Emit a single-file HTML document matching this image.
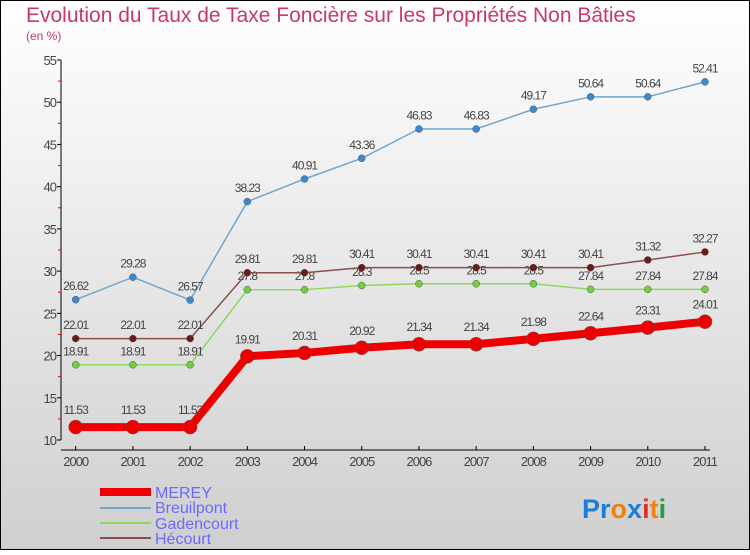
<!DOCTYPE html>
<html><head><meta charset="utf-8"><style>
body{margin:0}
#c{width:750px;height:550px;position:relative;font-family:"Liberation Sans",sans-serif}
</style></head><body>
<div id="c">
<svg id="s" width="750" height="550" xmlns="http://www.w3.org/2000/svg">
<defs><linearGradient id="bg" x1="0" y1="0" x2="0" y2="1"><stop offset="0" stop-color="#ffffff"/><stop offset="1" stop-color="#cfcfcf"/></linearGradient></defs>
<rect x="0.5" y="0.5" width="749" height="549" fill="url(#bg)" stroke="#000"/>
<text x="26" y="22" font-size="21" fill="#c8386a">Evolution du Taux de Taxe Foncière sur les Propriétés Non Bâties</text>
<text x="26" y="40" font-size="12" fill="#c8386a">(en %)</text>
<g id="axes"></g><g id="series"></g>
<g>
<line x1="100" y1="492" x2="151" y2="492" stroke="#e00" stroke-width="8"/>
<text x="155" y="498" font-size="16" fill="#6a6aff">MEREY</text>
<line x1="100" y1="508" x2="151" y2="508" stroke="#6ea6d0" stroke-width="2"/>
<text x="155" y="513" font-size="16" fill="#6a6aff">Breuilpont</text>
<line x1="100" y1="523" x2="151" y2="523" stroke="#8ed860" stroke-width="2"/>
<text x="155" y="529" font-size="16" fill="#6a6aff">Gadencourt</text>
<line x1="100" y1="538" x2="151" y2="538" stroke="#8a5050" stroke-width="2"/>
<text x="155" y="544" font-size="16" fill="#6a6aff">Hécourt</text>
</g>
<g font-size="27" font-weight="bold">
<text x="582" y="518"><tspan fill="#1a7fd8">Pr</tspan><tspan fill="#f08010">o</tspan><tspan fill="#1a7fd8">x</tspan><tspan fill="#e03020">i</tspan><tspan fill="#f08010">t</tspan><tspan fill="#20a040">i</tspan></text>
</g>
</svg>
</div>
<script>
const years=["2000","2001","2002","2003","2004","2005","2006","2007","2008","2009","2010","2011"];
const merey=[11.53,11.53,11.53,19.91,20.31,20.92,21.34,21.34,21.98,22.64,23.31,24.01];
const breuilpont=[26.62,29.28,26.57,38.23,40.91,43.36,46.83,46.83,49.17,50.64,50.64,52.41];
const gadencourt=[18.91,18.91,18.91,27.8,27.8,28.3,28.5,28.5,28.5,27.84,27.84,27.84];
const hecourt=[22.01,22.01,22.01,29.81,29.81,30.41,30.41,30.41,30.41,30.41,31.32,32.27];
const yTicks=[10,15,20,25,30,35,40,45,50,55];
const NS="http://www.w3.org/2000/svg";
const X=i=>75.7+i*(705-75.7)/(years.length-1);
const Y=v=>440-(v-10)*(380/45);
function mk(t,a,p){const e=document.createElementNS(NS,t);for(const k in a)e.setAttribute(k,a[k]);p.appendChild(e);return e;}
const ax=document.getElementById('axes');
let l=mk('line',{x1:61,y1:60,x2:61,y2:440,stroke:'#000'},ax);


l=mk('line',{x1:61,y1:450,x2:710,y2:450,stroke:'#000'},ax);


yTicks.forEach((v,i)=>{
 mk('line',{x1:57,y1:Y(v),x2:61,y2:Y(v),stroke:'#000'},ax);
 if(i<yTicks.length-1)mk('line',{x1:58,y1:Y(v+2.5),x2:61,y2:Y(v+2.5),stroke:'#e00'},ax);
 const t=mk('text',{x:56,y:Y(v)+5,'font-size':13,'text-anchor':'end',fill:'#444','letter-spacing':'-1'},ax);
 
 
 t.textContent=v;
});
years.forEach((y,i)=>{
 mk('line',{x1:X(i),y1:446,x2:X(i),y2:450,stroke:'#000'},ax);
 const t=mk('text',{x:X(i),y:466,'font-size':13,'text-anchor':'middle',fill:'#444','letter-spacing':'-1'},ax);
 
 
 t.textContent=y;
});
const sg=document.getElementById('series');
function draw(name,data,color,dot,w,r){
 const g=mk('g',{},sg);
 
 
 const p=mk('polyline',{points:data.map((v,i)=>X(i)+','+Y(v)).join(' '),fill:'none',stroke:color,'stroke-width':w,'stroke-linejoin':'round'},g);
 
 
 data.forEach((v,i)=>{
  const c=mk('circle',{cx:X(i),cy:Y(v),r:r,fill:dot,stroke:'#555','stroke-width':0.5},g);
  
  
  const t=mk('text',{x:X(i),y:Y(v)-(r+6),'font-size':12,'text-anchor':'middle',fill:'#444','letter-spacing':'-1'},g);
  
  
  t.textContent=v;
 });
}
draw('breuilpont',breuilpont,'#6ea6d0','#3a8ad0',1.5,3.5);
draw('gadencourt',gadencourt,'#8ed860','#70d040',1.5,3.5);
draw('hecourt',hecourt,'#8a5050','#6a1a1a',1.5,3.5);
draw('merey',merey,'#e00','#e00',8,7);
</script>
</body></html>
